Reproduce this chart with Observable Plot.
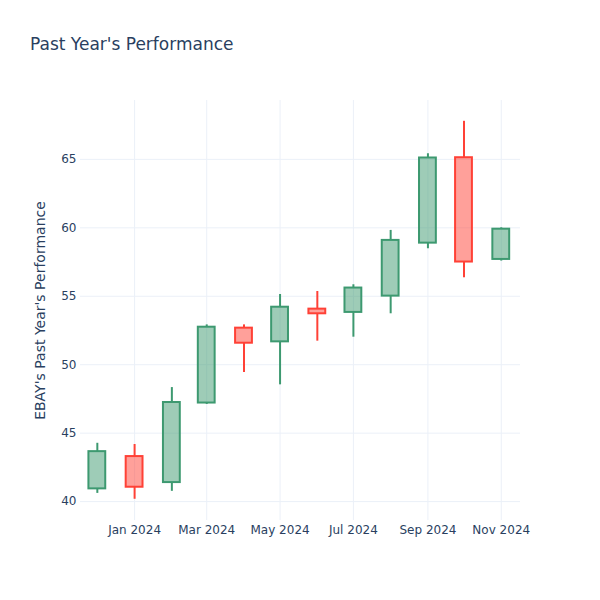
<!DOCTYPE html>
<html>
<head>
<meta charset="utf-8">
<script src="https://cdn.jsdelivr.net/npm/d3@7"></script>
<script src="https://cdn.jsdelivr.net/npm/@observablehq/plot@0.6"></script>
<style>
  html, body { margin: 0; padding: 0; background: #fff; }
  #wrap { position: relative; width: 600px; height: 600px; font-family: "DejaVu Sans", sans-serif; }
  #title { position: absolute; left: 30px; top: 34px; font-size: 17px; color: #2a3f5f; white-space: nowrap; }
  #chart { position: absolute; left: 0; top: 0; }
</style>
</head>
<body>
<div id="wrap">
  <div id="chart"></div>
  <div id="title">Past Year's Performance</div>
</div>
<script>
const months = ["2023-12-01","2024-01-01","2024-02-01","2024-03-01","2024-04-01","2024-05-01","2024-06-01","2024-07-01","2024-08-01","2024-09-01","2024-10-01","2024-11-01"];
const openV  = [40.93, 43.29, 41.39, 47.20, 52.67, 51.67, 54.06, 53.82, 55.01, 58.88, 65.12, 57.69];
const highV  = [44.26, 44.17, 48.33, 52.91, 52.91, 55.13, 55.35, 55.84, 59.81, 65.41, 67.78, 60.00];
const lowV   = [40.60, 40.17, 40.75, 47.10, 49.43, 48.53, 51.72, 52.01, 53.72, 58.47, 56.35, 57.57];
const closeV = [43.65, 41.05, 47.24, 52.74, 51.57, 54.20, 53.72, 55.60, 59.08, 65.10, 57.50, 59.90];
const yTicks = [40, 45, 50, 55, 60, 65];
const xTicks = ["2024-01-01","2024-03-01","2024-05-01","2024-07-01","2024-09-01","2024-11-01"];

const data = months.map((m, i) => {
  const date = new Date(m + "T00:00:00Z");
  return {
    date,
    x1: d3.utcHour.offset(date, -7 * 24),
    x2: d3.utcHour.offset(date, 7 * 24),
    open: openV[i], high: highV[i], low: lowV[i], close: closeV[i],
    top: Math.max(openV[i], closeV[i]),
    bot: Math.min(openV[i], closeV[i]),
    up: closeV[i] >= openV[i]
  };
});
const line = d => d.up ? "#3D9970" : "#FF4136";
const fill = d => d.up ? "rgba(61,153,112,0.5)" : "rgba(255,65,54,0.5)";
const tickDates = xTicks.map(t => new Date(t + "T00:00:00Z"));

const chart = Plot.plot({
  width: 600,
  height: 600,
  marginTop: 100,
  marginBottom: 80,
  marginLeft: 80,
  marginRight: 80,
  style: { fontFamily: "DejaVu Sans, sans-serif", fontSize: "12px", color: "#2a3f5f", background: "#fff" },
  x: { type: "utc", domain: [new Date("2023-11-17T00:00:00Z"), new Date("2024-11-17T00:00:00Z")] },
  y: { domain: [38.62, 69.3] },
  marks: [
    Plot.gridX(tickDates, { stroke: "#EBF0F8", strokeOpacity: 1, strokeWidth: 1 }),
    Plot.gridY(yTicks, { stroke: "#EBF0F8", strokeOpacity: 1, strokeWidth: 1 }),
    Plot.axisX(tickDates, { tickSize: 0, tickPadding: 5, tickFormat: d3.utcFormat("%b %Y"), fill: "#2a3f5f", label: null, fontSize: 12 }),
    Plot.axisY(yTicks, { tickSize: 0, tickPadding: 4, fill: "#2a3f5f", label: null, fontSize: 12 }),
    Plot.axisY(yTicks, { tickSize: 0, text: null, fill: "#2a3f5f", label: "EBAY's Past Year's Performance", labelAnchor: "center", labelArrow: "none", labelOffset: 45, fontSize: 14 }),
    Plot.ruleX(data, { x: "date", y1: "low", y2: "bot", stroke: line, strokeWidth: 2 }),
    Plot.ruleX(data, { x: "date", y1: "top", y2: "high", stroke: line, strokeWidth: 2 }),
    Plot.rect(data, { x1: "x1", x2: "x2", y1: "bot", y2: "top", fill: fill, stroke: line, strokeWidth: 2 })
  ]
});
document.getElementById("chart").appendChild(chart);
</script>
</body>
</html>
